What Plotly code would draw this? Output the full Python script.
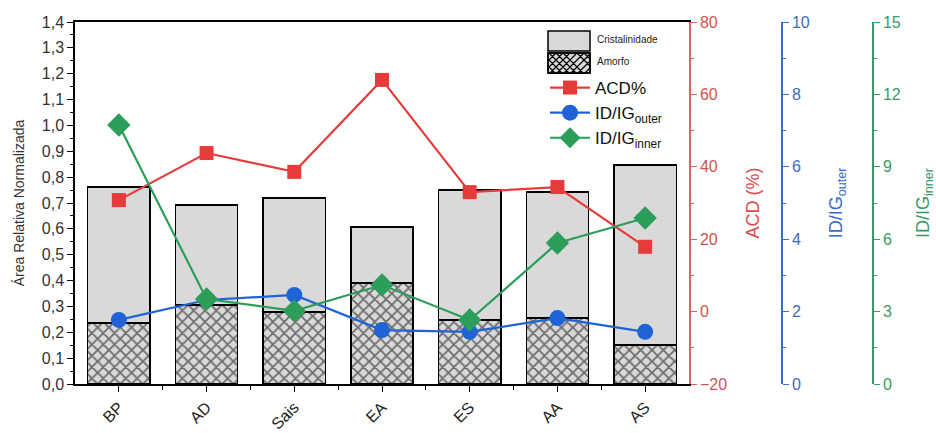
import plotly.graph_objects as go

categories = ["BP", "AD", "Sais", "EA", "ES", "AA", "AS"]
amorfo = [0.236, 0.306, 0.278, 0.390, 0.248, 0.256, 0.151]
cristalinidade = [0.526, 0.386, 0.441, 0.217, 0.502, 0.486, 0.696]
acd = [30.8, 43.8, 38.6, 64.0, 33.0, 34.4, 17.9]
idig_outer = [1.77, 2.32, 2.46, 1.49, 1.44, 1.82, 1.44]
idig_inner = [10.73, 3.52, 3.03, 4.10, 2.65, 5.84, 6.88]

left_ticks = [i / 10 for i in range(15)]
left_ticktext = [f"{v:.1f}".replace(".", ",") for v in left_ticks]

xpos = list(range(len(categories)))

RED = "#e53b3b"
REDAX = "#dc6464"
BLUE = "#1f63d6"
BLUEAX = "#3a6cc0"
GREEN = "#2d9d5a"
GREENAX = "#3a9a66"
FONT = "Liberation Sans, Arial, sans-serif"
BARGRAY = "#d9d9d9"

W, H = 936, 433
L, R, T, B = 75, 10, 22, 49
pw = W - L - R
ph = H - T - B
dom_end = (689 - L) / pw


def px_x(p):
    return (p - L) / pw


def px_y(p):
    return (H - B - p) / ph


fig = go.Figure()

fig.add_trace(go.Bar(
    x=xpos, y=amorfo, name="Amorfo", showlegend=False,
    width=0.71,
    marker=dict(color=BARGRAY, line=dict(color="black", width=1.5),
                pattern=dict(shape="x", fgcolor="black", bgcolor=BARGRAY, size=8, solidity=0.4)),
))
fig.add_trace(go.Bar(
    x=xpos, y=cristalinidade, name="Cristalinidade", showlegend=False,
    width=0.71,
    marker=dict(color=BARGRAY, line=dict(color="black", width=1.5)),
))
fig.add_trace(go.Scatter(
    x=xpos, y=acd, name="ACD%", yaxis="y2", mode="lines+markers",
    line=dict(color=RED, width=2.2),
    marker=dict(symbol="square", size=14, color=RED),
))
fig.add_trace(go.Scatter(
    x=xpos, y=idig_outer, name="ID/IG<sub>outer</sub>", yaxis="y3", mode="lines+markers",
    line=dict(color=BLUE, width=2.2),
    marker=dict(symbol="circle", size=16, color=BLUE),
))
fig.add_trace(go.Scatter(
    x=xpos, y=idig_inner, name="ID/IG<sub>inner</sub>", yaxis="y4", mode="lines+markers",
    line=dict(color=GREEN, width=2.2),
    marker=dict(symbol="diamond", size=18, color=GREEN),
))

# legend patches for the bars (drawn as shapes)
shapes = []
annotations = []
px0, px1 = 548, 590
patches = [("Cristalinidade", 31, 51, False), ("Amorfo", 53, 73, True)]
for label, py0, py1, hatched in patches:
    shapes.append(dict(type="rect", xref="paper", yref="paper",
                       x0=px_x(px0), x1=px_x(px1), y0=px_y(py1), y1=px_y(py0),
                       fillcolor=BARGRAY, line=dict(color="black", width=1.5), layer="above"))
    if hatched:
        s = 7
        w, h = px1 - px0, py1 - py0
        segs = []
        c = -h
        while c < w + h:
            pts = []
            for xx in (0, w):
                yy = xx - c
                if 0 <= yy <= h:
                    pts.append((xx, yy))
            for yy in (0, h):
                xx = yy + c
                if 0 <= xx <= w:
                    pts.append((xx, yy))
            if len(pts) >= 2:
                segs.append((pts[0], pts[-1]))
            pts = []
            for xx in (0, w):
                yy = c - xx
                if 0 <= yy <= h:
                    pts.append((xx, yy))
            for yy in (0, h):
                xx = c - yy
                if 0 <= xx <= w:
                    pts.append((xx, yy))
            if len(pts) >= 2:
                segs.append((pts[0], pts[-1]))
            c += s
        path = ""
        for (a, b) in segs:
            path += f"M{px_x(px0 + a[0]):.5f},{px_y(py0 + a[1]):.5f} L{px_x(px0 + b[0]):.5f},{px_y(py0 + b[1]):.5f} "
        shapes.append(dict(type="path", xref="paper", yref="paper", path=path,
                           line=dict(color="black", width=1.2), layer="above"))
        shapes.append(dict(type="rect", xref="paper", yref="paper",
                           x0=px_x(px0), x1=px_x(px1), y0=px_y(py1), y1=px_y(py0),
                           line=dict(color="black", width=1.5), layer="above"))
    annotations.append(dict(text=label, xref="paper", yref="paper",
                            x=px_x(595), y=px_y(py0 + 8), xanchor="left", yanchor="middle",
                            showarrow=False, font=dict(size=10, color="#222")))

fig.update_layout(
    width=W, height=H,
    margin=dict(l=L, r=R, t=T, b=B, autoexpand=False),
    barmode="stack",
    plot_bgcolor="white", paper_bgcolor="white",
    font=dict(family=FONT, size=15, color="#333"),
    showlegend=True,
    shapes=shapes, annotations=annotations,
    legend=dict(x=px_x(545), y=px_y(70), xanchor="left", yanchor="top",
                bgcolor="rgba(0,0,0,0)", font=dict(size=17, color="#111"),
                tracegroupgap=0, itemwidth=40, traceorder="normal"),
    xaxis=dict(
        domain=[0, dom_end], range=[-0.5, 6.5], automargin=False,
        tickmode="array", tickvals=xpos, ticktext=categories, tickangle=-45,
        showline=True, linecolor="black", linewidth=1.5, mirror=True,
        ticks="outside", ticklen=6, tickcolor="black",
        minor=dict(tickmode="array", tickvals=[p + 0.5 for p in xpos[:-1]], ticks="outside", ticklen=4, tickcolor="black"),
        showgrid=False, zeroline=False,
        tickfont=dict(size=16, color="#222"),
    ),
    yaxis=dict(
        range=[0, 1.4], tickmode="array", tickvals=left_ticks, ticktext=left_ticktext,
        showline=True, linecolor="black", linewidth=1.5, automargin=False,
        ticks="outside", ticklen=6, tickcolor="black",
        minor=dict(dtick=0.05, ticks="outside", ticklen=3, tickcolor="black"),
        showgrid=False, zeroline=False,
        title=dict(text="Área Relativa Normalizada", font=dict(size=14, color="#333"), standoff=14),
        tickfont=dict(size=16, color="#333"),
    ),
    yaxis2=dict(
        overlaying="y", side="right", anchor="x", range=[-20, 80], automargin=False,
        tickvals=[-20, 0, 20, 40, 60, 80], ticktext=["\u221220", "0", "20", "40", "60", "80"],
        showline=True, linecolor=REDAX, linewidth=1.5,
        ticks="outside", ticklen=6, tickcolor=REDAX,
        minor=dict(dtick=10, ticks="outside", ticklen=3, tickcolor=REDAX),
        showgrid=False, zeroline=False,
        tickfont=dict(size=16, color="#cf5252"),
        title=dict(text="ACD (%)", font=dict(size=18, color="#dd4a4a"), standoff=20),
    ),
    yaxis3=dict(
        overlaying="y", side="right", anchor="free", position=px_x(782), range=[0, 10], automargin=False,
        tickvals=[0, 2, 4, 6, 8, 10],
        showline=True, linecolor=BLUEAX, linewidth=1.5,
        ticks="outside", ticklen=6, tickcolor=BLUEAX,
        minor=dict(dtick=1, ticks="outside", ticklen=3, tickcolor=BLUEAX),
        showgrid=False, zeroline=False,
        tickfont=dict(size=16, color=BLUEAX),
        title=dict(text="ID/IG<sub>outer</sub>", font=dict(size=18, color=BLUEAX), standoff=20),
    ),
    yaxis4=dict(
        overlaying="y", side="right", anchor="free", position=px_x(873), range=[0, 15], automargin=False,
        tickvals=[0, 3, 6, 9, 12, 15],
        showline=True, linecolor=GREENAX, linewidth=1.5,
        ticks="outside", ticklen=6, tickcolor=GREENAX,
        minor=dict(dtick=1.5, ticks="outside", ticklen=3, tickcolor=GREENAX),
        showgrid=False, zeroline=False,
        tickfont=dict(size=16, color=GREENAX),
        title=dict(text="ID/IG<sub>inner</sub>", font=dict(size=18, color=GREENAX), standoff=26),
    ),
)

fig.write_html("out.html")
